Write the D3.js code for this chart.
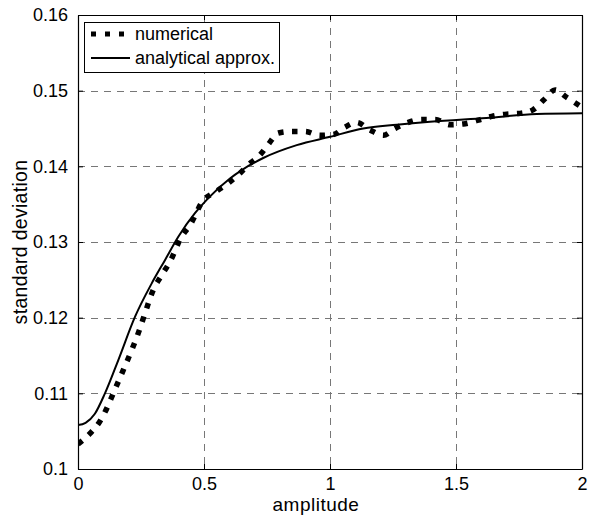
<!DOCTYPE html>
<html>
<head>
<meta charset="utf-8">
<script src="https://cdn.jsdelivr.net/npm/d3@7"></script>
<style>
  html, body { margin: 0; padding: 0; background: #fff; }
  text { font-family: "Liberation Sans", Arial, sans-serif; fill: #000; }
</style>
</head>
<body>
<svg id="chart" width="591" height="515"></svg>
<script>
// ---- data ----
const numX = [0, 0.048, 0.087, 0.114, 0.14, 0.18, 0.213, 0.246, 0.266, 0.299, 0.332, 0.365, 0.411, 0.444, 0.497, 0.544, 0.597, 0.643, 0.676, 0.722, 0.755, 0.795, 0.848, 0.901, 0.96, 1.013, 1.06, 1.106, 1.159, 1.212, 1.258, 1.311, 1.364, 1.417, 1.476, 1.529, 1.589, 1.642, 1.701, 1.754, 1.807, 1.849, 1.893, 1.94, 2.0];
const numY = [0.1033, 0.1047, 0.1063, 0.1080, 0.1100, 0.1131, 0.1157, 0.1186, 0.1206, 0.1237, 0.1256, 0.1274, 0.1307, 0.1322, 0.1355, 0.1366, 0.1378, 0.1391, 0.1402, 0.1415, 0.1429, 0.1444, 0.1446, 0.1446, 0.1441, 0.1442, 0.1452, 0.1458, 0.1448, 0.1441, 0.1450, 0.1458, 0.1462, 0.1462, 0.1455, 0.1456, 0.1461, 0.1466, 0.1469, 0.1470, 0.1475, 0.1488, 0.1501, 0.1491, 0.1478];
const anaX = [0, 0.03, 0.067, 0.107, 0.16, 0.226, 0.292, 0.345, 0.398, 0.464, 0.517, 0.603, 0.65, 0.735, 0.868, 1.0, 1.132, 1.265, 1.397, 1.62, 1.82, 2.0];
const anaY = [0.1058, 0.1061, 0.1073, 0.1100, 0.1144, 0.1201, 0.1245, 0.1276, 0.1307, 0.1338, 0.1358, 0.1384, 0.1395, 0.1411, 0.1428, 0.1439, 0.1450, 0.1455, 0.1459, 0.1464, 0.1469, 0.1470];
const xTicks = [0, 0.5, 1, 1.5, 2];
const xTickLabels = ["0", "0.5", "1", "1.5", "2"];
const yTicks = [0.1, 0.11, 0.12, 0.13, 0.14, 0.15, 0.16];
const yTickLabels = ["0.1", "0.11", "0.12", "0.13", "0.14", "0.15", "0.16"];
const seriesNames = ["numerical", "analytical approx."];
const xLabel = "amplitude";
const yLabel = "standard deviation";

// ---- layout ----
const svg = d3.select("#chart");
const L = 78, T = 15, W = 504, H = 454;
const x = d3.scaleLinear().domain([0, 2]).range([L, L + W]);
const y = d3.scaleLinear().domain([0.1, 0.16]).range([T + H, T]);

// grid
const grid = svg.append("g").attr("stroke", "#777").attr("stroke-width", 1).attr("stroke-dasharray", "7,6");
grid.selectAll(".gx").data(xTicks.slice(1, -1)).join("line")
  .attr("x1", d => Math.round(x(d)) + 0.5).attr("x2", d => Math.round(x(d)) + 0.5)
  .attr("y1", T).attr("y2", T + H);
grid.selectAll(".gy").data(yTicks.slice(1, -1)).join("line")
  .attr("y1", d => Math.round(y(d)) + 0.5).attr("y2", d => Math.round(y(d)) + 0.5)
  .attr("x1", L).attr("x2", L + W);

// clip
svg.append("clipPath").attr("id", "clip").append("rect")
  .attr("x", L).attr("y", T).attr("width", W).attr("height", H);

// series
const numData = numX.map((v, i) => [v, numY[i]]);
const anaData = anaX.map((v, i) => [v, anaY[i]]);
const lineGen = d3.line().x(d => x(d[0])).y(d => y(d[1])).curve(d3.curveMonotoneX);

svg.append("path").datum(anaData).attr("clip-path", "url(#clip)")
  .attr("d", lineGen).attr("fill", "none").attr("stroke", "#000").attr("stroke-width", 2);
svg.append("path").datum(numData).attr("clip-path", "url(#clip)")
  .attr("d", lineGen).attr("fill", "none").attr("stroke", "#000")
  .attr("stroke-width", 5.5).attr("stroke-dasharray", "5.5,8.5").attr("stroke-linecap", "butt");

// axes
const axB = d3.axisBottom(x).tickValues(xTicks).tickFormat((d, i) => xTickLabels[i]).tickSizeInner(-5).tickSizeOuter(0).tickPadding(8);
const axT = d3.axisTop(x).tickValues(xTicks).tickFormat("").tickSizeInner(-5).tickSizeOuter(0);
const axL = d3.axisLeft(y).tickValues(yTicks).tickFormat((d, i) => yTickLabels[i]).tickSizeInner(-5).tickSizeOuter(0).tickPadding(10);
const axR = d3.axisRight(y).tickValues(yTicks).tickFormat("").tickSizeInner(-5).tickSizeOuter(0);

function style(g) {
  g.select(".domain").attr("stroke", "#000").attr("stroke-width", 1.2);
  g.selectAll(".tick line").attr("stroke", "#000");
  g.selectAll(".tick text").attr("font-size", 18).attr("font-family", "Liberation Sans, Arial, sans-serif").attr("fill", "#000");
}
svg.append("g").attr("transform", `translate(0,${T + H})`).call(axB).call(style);
svg.append("g").attr("transform", `translate(0,${T})`).call(axT).call(style);
svg.append("g").attr("transform", `translate(${L},0)`).call(axL).call(style);
svg.append("g").attr("transform", `translate(${L + W},0)`).call(axR).call(style);

// axis labels
svg.append("text").attr("x", L + W / 2 - 14).attr("y", 511).attr("text-anchor", "middle")
  .attr("font-size", 19).attr("letter-spacing", 0.5).text(xLabel);
svg.append("text").attr("transform", `translate(27,${242}) rotate(-90)`).attr("text-anchor", "middle")
  .attr("font-size", 19.5).attr("letter-spacing", 0.3).text(yLabel);

// legend
const lg = svg.append("g");
lg.append("rect").attr("x", 84.5).attr("y", 22.5).attr("width", 195).attr("height", 50)
  .attr("fill", "#fff").attr("stroke", "#000").attr("stroke-width", 1);
const rows = [34, 58];
lg.append("line").attr("x1", 91).attr("x2", 131).attr("y1", rows[0]).attr("y2", rows[0])
  .attr("stroke", "#000").attr("stroke-width", 5).attr("stroke-dasharray", "5,9");
lg.append("line").attr("x1", 91).attr("x2", 130).attr("y1", rows[1]).attr("y2", rows[1])
  .attr("stroke", "#000").attr("stroke-width", 2);
seriesNames.forEach((s, i) => {
  lg.append("text").attr("x", 135).attr("y", rows[i]).attr("dy", "0.35em")
    .attr("font-size", 18).text(s);
});
</script>
</body>
</html>
